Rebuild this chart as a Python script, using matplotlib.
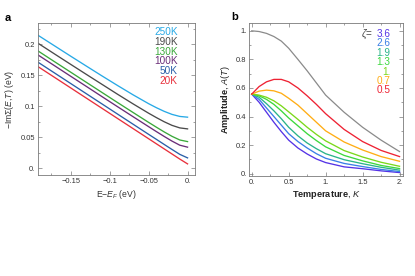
import numpy as np
import matplotlib
matplotlib.use('Agg')
import matplotlib.pyplot as plt
from matplotlib.ticker import MultipleLocator

plt.rcParams['font.family'] = ['Liberation Sans', 'DejaVu Sans']
plt.rcParams['mathtext.fontset'] = 'custom'
plt.rcParams['mathtext.rm'] = 'Liberation Sans'
plt.rcParams['mathtext.it'] = 'Liberation Sans:italic'
plt.rcParams['mathtext.bf'] = 'Liberation Sans:bold'

# ---- panel a data: -Im Sigma(E,T) ----
energy = [-0.192, -0.17, -0.15, -0.13, -0.11, -0.09, -0.07, -0.05, -0.04, -0.03, -0.02, -0.01, 0.0]
temps_a = ['250K', '190K', '130K', '100K', '50K', '20K']
sig_250 = [0.2145, 0.1968, 0.1807, 0.1648, 0.1490, 0.1335, 0.1184, 0.1041, 0.0976, 0.0917, 0.0868, 0.0835, 0.0823]
sig_190 = [0.2016, 0.1837, 0.1675, 0.1514, 0.1354, 0.1194, 0.1038, 0.0887, 0.0816, 0.0749, 0.0691, 0.0650, 0.0634]
sig_130 = [0.1892, 0.1712, 0.1549, 0.1386, 0.1223, 0.1060, 0.0899, 0.0739, 0.0661, 0.0585, 0.0514, 0.0455, 0.0429]
sig_100 = [0.1827, 0.1647, 0.1483, 0.1320, 0.1156, 0.0993, 0.0831, 0.0670, 0.0590, 0.0512, 0.0437, 0.0371, 0.0339]
sig_50 = [0.1710, 0.1530, 0.1366, 0.1202, 0.1038, 0.0874, 0.0710, 0.0546, 0.0465, 0.0383, 0.0302, 0.0223, 0.0166]
sig_20 = [0.1639, 0.1459, 0.1295, 0.1131, 0.0967, 0.0803, 0.0639, 0.0475, 0.0393, 0.0311, 0.0229, 0.0147, 0.0069]
cols_a = ['#27a9e6', '#4a4a4a', '#3aa83a', '#6a2d78', '#2a5fa8', '#e8303c']

# ---- panel b data: amplitude A(T) ----
temp_b = [0, 0.1, 0.2, 0.3, 0.4, 0.5, 0.625, 0.75, 0.875, 1.0, 1.25, 1.5, 1.75, 2.0]
amp_ref = [1.0, 0.995, 0.982, 0.96, 0.928, 0.878, 0.80, 0.72, 0.635, 0.55, 0.43, 0.325, 0.235, 0.155]
zetas = ['3.6', '2.6', '1.9', '1.3', '1.', '0.7', '0.5']
amp_36 = [0.557, 0.50, 0.43, 0.36, 0.295, 0.235, 0.18, 0.138, 0.103, 0.078, 0.048, 0.035, 0.02, 0.008]
amp_26 = [0.557, 0.52, 0.46, 0.40, 0.34, 0.28, 0.225, 0.18, 0.14, 0.108, 0.072, 0.05, 0.03, 0.015]
amp_19 = [0.557, 0.535, 0.49, 0.44, 0.385, 0.325, 0.265, 0.215, 0.175, 0.14, 0.098, 0.07, 0.045, 0.025]
amp_13 = [0.557, 0.545, 0.52, 0.485, 0.44, 0.39, 0.335, 0.28, 0.232, 0.188, 0.128, 0.09, 0.058, 0.036]
amp_10 = [0.557, 0.55, 0.535, 0.51, 0.475, 0.433, 0.38, 0.325, 0.275, 0.23, 0.162, 0.117, 0.08, 0.052]
amp_07 = [0.557, 0.578, 0.585, 0.58, 0.563, 0.528, 0.48, 0.42, 0.36, 0.30, 0.222, 0.166, 0.12, 0.087]
amp_05 = [0.557, 0.61, 0.643, 0.66, 0.66, 0.643, 0.60, 0.545, 0.485, 0.42, 0.31, 0.225, 0.163, 0.12]
cols_b = ['#5533e6', '#3a7ee6', '#2ab48a', '#3cd83c', '#7ad81a', '#ffad14', '#ee2233']

xt_a = [-0.15, -0.1, -0.05, 0.0]
xt_a_lab = ['\u22120.15', '\u22120.1', '\u22120.05', '0.']
yt_a = [0.0, 0.05, 0.1, 0.15, 0.2]
yt_a_lab = ['0.', '0.05', '0.1', '0.15', '0.2']
xt_b = [0.0, 0.5, 1.0, 1.5, 2.0]
xt_b_lab = ['0.', '0.5', '1.', '1.5', '2.']
yt_b = [0.0, 0.2, 0.4, 0.6, 0.8, 1.0]
yt_b_lab = ['0.', '0.2', '0.4', '0.6', '0.8', '1.']

fig = plt.figure(figsize=(4.15, 2.76), dpi=100)
ax1 = fig.add_axes([0.0916, 0.366, 0.378, 0.550])
ax2 = fig.add_axes([0.6007, 0.3623, 0.371, 0.553])


def frame(ax):
    for s in ax.spines.values():
        s.set_color('#7a7a7a')
        s.set_linewidth(0.6)
    ax.tick_params(which='both', direction='in', top=True, right=True,
                   color='#7a7a7a', width=0.5, labelsize=5.4, labelcolor='#333333', pad=2)
    ax.tick_params(which='major', length=3)
    ax.tick_params(which='minor', length=1.6)


# panel a
for vals, c in zip([sig_250, sig_190, sig_130, sig_100, sig_50, sig_20], cols_a):
    ax1.plot(energy, vals, color=c, lw=0.95)
ax1.set_xlim(-0.192, 0.0094)
ax1.set_ylim(-0.011, 0.234)
ax1.set_xticks(xt_a)
ax1.set_xticklabels(xt_a_lab)
ax1.set_yticks(yt_a)
ax1.set_yticklabels(yt_a_lab)
ax1.xaxis.set_minor_locator(MultipleLocator(0.025))
ax1.yaxis.set_minor_locator(MultipleLocator(0.025))
frame(ax1)
ax1.set_xlabel(r'E$-E_F$ (eV)', fontsize=6.2, color='#333333', labelpad=2)
ax1.set_ylabel(r'$-$Im$\Sigma$($E$,$T$) (eV)', fontsize=6.2, color='#333333', labelpad=3)
for i, (lab, c) in enumerate(zip(temps_a, cols_a)):
    ax1.text(0.89, 0.943 - i * 0.065, lab, transform=ax1.transAxes,
             ha='right', va='center', color=c, fontsize=7.2)

# panel b
ax2.plot(temp_b, amp_ref, color='#8a8a8a', lw=0.9)
for vals, c in zip([amp_36, amp_26, amp_19, amp_13, amp_10, amp_07, amp_05], cols_b):
    ax2.plot(temp_b, vals, color=c, lw=0.95)
ax2.set_xlim(-0.033, 2.05)
ax2.set_ylim(-0.016, 1.052)
ax2.set_xticks(xt_b)
ax2.set_xticklabels(xt_b_lab)
ax2.set_yticks(yt_b)
ax2.set_yticklabels(yt_b_lab)
ax2.xaxis.set_minor_locator(MultipleLocator(0.25))
ax2.yaxis.set_minor_locator(MultipleLocator(0.1))
frame(ax2)
ax2.set_xlabel(r'$\mathbf{Temperature}$, $K$', fontsize=6.6, color='#222222', labelpad=2)
ax2.set_ylabel(r'$\mathbf{Amplitude}$, $A(T)$', fontsize=6.6, color='#222222', labelpad=3)
ax2.text(0.725, 0.93, r'$\zeta$=', transform=ax2.transAxes, ha='left', va='center',
         color='#444444', fontsize=7.2)
for i, (lab, c) in enumerate(zip(zetas, cols_b)):
    ax2.text(0.915, 0.93 - i * 0.0616, lab, transform=ax2.transAxes,
             ha='right', va='center', color=c, fontsize=7.2)

fig.text(0.0176, 0.934, 'a', fontsize=8, fontweight='bold', ha='center', va='center')
fig.text(0.566, 0.937, 'b', fontsize=8, fontweight='bold', ha='center', va='center')

fig.savefig('out.png', dpi=100)
